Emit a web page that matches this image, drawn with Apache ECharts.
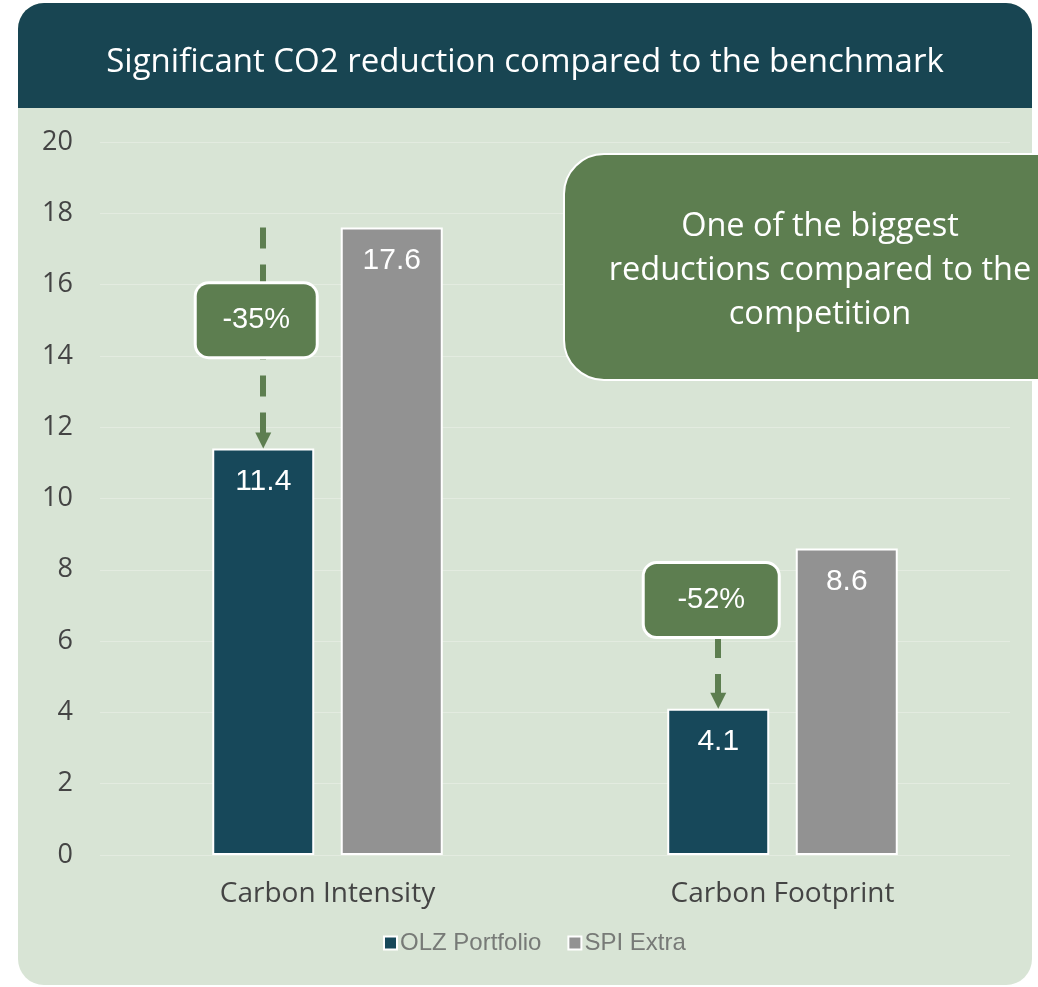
<!DOCTYPE html>
<html>
<head>
<meta charset="utf-8">
<script src="https://cdn.jsdelivr.net/npm/echarts@6/dist/echarts.min.js"></script>
<style>
html,body{margin:0;padding:0;background:#fff;}
#c{width:1038px;height:987px;}
</style>
</head>
<body>
<div id="c"></div>
<script>
const titleText = 'Significant CO2 reduction compared to the benchmark';
const categories = ['Carbon Intensity', 'Carbon Footprint'];
const seriesNames = ['OLZ Portfolio', 'SPI Extra'];
const olzValues = [11.4, 4.1];
const spiValues = [17.6, 8.6];
const yTicks = [0, 2, 4, 6, 8, 10, 12, 14, 16, 18, 20];
const reductionLabels = ['-35%', '-52%'];
const boxCenters = [15.0, 7.15];
const arrowStarts = [17.6, 7.15];
const calloutText = 'One of the biggest\nreductions compared to the\ncompetition';

const GREEN = '#5d7e50';
const TEAL = '#17485a';
const GREY = '#929292';
const BODY = '#d8e4d5';
const HEADER = '#184552';
const FONT = 'Open Sans';

const chart = echarts.init(document.getElementById('c'));

const arrowLines = categories.map((c, i) => [
  { coord: [c, arrowStarts[i]] },
  { coord: [c, olzValues[i]] }
]);
const boxes = categories.map((c, i) => ({
  coord: [c, boxCenters[i]],
  value: reductionLabels[i],
  symbol: 'rect',
  symbolSize: 1,
  itemStyle: { color: 'transparent' },
  label: {
    show: true,
    position: 'inside',
    offset: [-7, 0],
    formatter: reductionLabels[i],
    color: '#fff',
    fontFamily: 'Liberation Sans',
    fontSize: 29,
    backgroundColor: GREEN,
    borderColor: '#fff',
    borderWidth: 3,
    borderRadius: 12,
    width: i === 0 ? 119 : 133,
    height: 72,
    lineHeight: 72,
    align: 'center',
    verticalAlign: 'middle'
  }
}));
const heads = categories.map((c, i) => ({
  coord: [c, olzValues[i]],
  symbol: 'triangle',
  symbolSize: [16, 16],
  symbolRotate: 180,
  symbolOffset: [0, -8],
  itemStyle: { color: GREEN },
  label: { show: false }
}));

chart.setOption({
  animation: false,
  backgroundColor: '#ffffff',
  graphic: [
    { type: 'rect', z: -10, shape: { x: 18, y: 3, width: 1014, height: 982, r: 26 }, style: { fill: BODY } },
    { type: 'rect', z: -9, shape: { x: 18, y: 3, width: 1014, height: 105, r: [26, 26, 0, 0] }, style: { fill: HEADER } },
    { type: 'text', z: 5, x: 525, y: 63, style: { text: titleText, fill: '#fff', font: '33px "' + FONT + '"', align: 'center', verticalAlign: 'middle' } },
    { type: 'rect', z: 20, shape: { x: 564, y: 154, width: 490, height: 226, r: [40, 0, 0, 40] }, style: { fill: GREEN, stroke: '#fff', lineWidth: 2 } },
    { type: 'text', z: 21, x: 820, y: 271, style: { text: calloutText, fill: '#fff', font: '32.5px "' + FONT + '"', lineHeight: 44, align: 'center', verticalAlign: 'middle' } }
  ],
  grid: { left: 100, right: 28, top: 142, bottom: 132 },
  legend: {
    data: seriesNames,
    bottom: 27,
    left: 378,
    itemWidth: 13,
    itemHeight: 13,
    itemGap: 26,
    icon: 'rect',
    textStyle: { fontFamily: 'Liberation Sans', fontSize: 24, color: '#777a77', padding: [0, 0, 0, -2] },
    itemStyle: { borderColor: '#fff', borderWidth: 2 }
  },
  xAxis: {
    type: 'category',
    data: categories,
    axisLine: { show: false },
    axisTick: { show: false },
    axisLabel: { fontFamily: FONT, fontSize: 28, color: '#444', margin: 25 }
  },
  yAxis: {
    type: 'value',
    min: yTicks[0],
    max: yTicks[yTicks.length - 1],
    interval: yTicks[1] - yTicks[0],
    axisLine: { show: false },
    axisTick: { show: false },
    axisLabel: { fontFamily: FONT, fontSize: 27, color: '#444', margin: 27 },
    splitLine: { lineStyle: { color: '#e3ebe0', width: 1 } }
  },
  series: [
    {
      name: seriesNames[0],
      type: 'bar',
      data: olzValues,
      barWidth: 102,
      barGap: '26%',
      itemStyle: { color: TEAL, borderColor: '#fff', borderWidth: 2 },
      label: { show: true, position: 'insideTop', distance: 18, color: '#fff', fontFamily: 'Liberation Sans', fontSize: 30 },
      markLine: {
        silent: true,
        symbol: ['none', 'none'],
        label: { show: false },
        lineStyle: { color: GREEN, type: [21, 16], width: 6, opacity: 1 },
        data: arrowLines,
        z: 3
      },
      markPoint: { silent: true, data: boxes.concat(heads), z: 4 }
    },
    {
      name: seriesNames[1],
      type: 'bar',
      data: spiValues,
      barWidth: 102,
      itemStyle: { color: GREY, borderColor: '#fff', borderWidth: 2 },
      label: { show: true, position: 'insideTop', distance: 18, color: '#fff', fontFamily: 'Liberation Sans', fontSize: 30 }
    }
  ]
});
</script>
</body>
</html>
